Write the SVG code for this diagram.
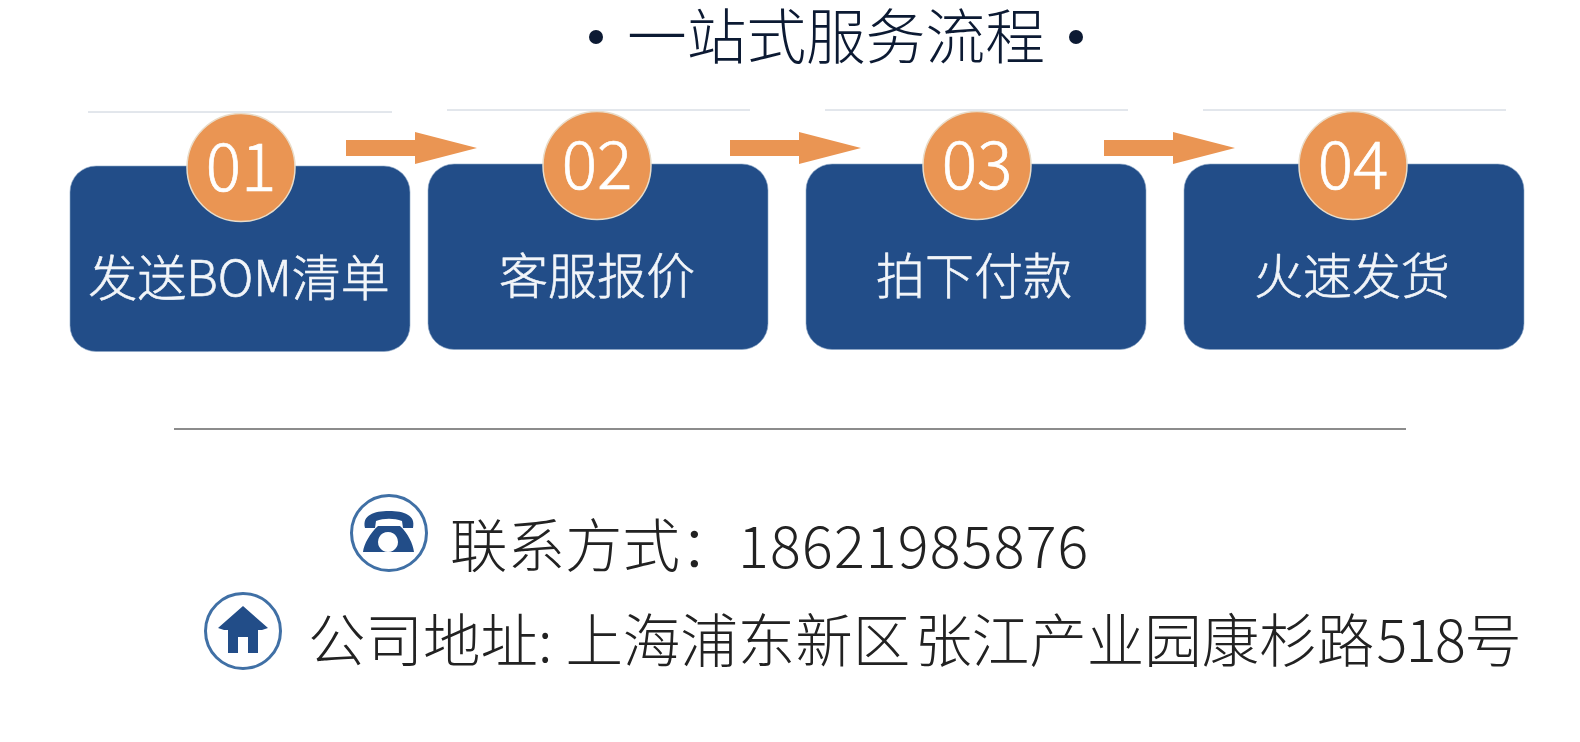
<svg xmlns="http://www.w3.org/2000/svg" width="1580" height="742" viewBox="0 0 1580 742">
<defs><filter id="soft" x="-5%" y="-5%" width="110%" height="110%"><feGaussianBlur stdDeviation="0.6"/></filter></defs>
<style>
.box{fill:#224e88;stroke:#8fa8c8;stroke-width:.6}
.num{fill:#ea9552;stroke:#e9dcc9;stroke-width:1.5}
.n{font-family:"Noto Sans CJK SC",sans-serif;font-weight:300;font-size:66px;fill:#fff;stroke:#fff;stroke-width:.7;text-anchor:middle}
.l{font-family:"Noto Sans CJK SC",sans-serif;font-weight:300;font-size:49px;fill:#f2f5f9;stroke:#f2f5f9;stroke-width:.6;text-anchor:middle}
.top{stroke:#c6ced9;stroke-width:1}
.arrow{fill:#ea9552}
.t{font-family:"Noto Sans CJK SC",sans-serif;font-weight:300;fill:#222;font-size:57.500px}
.ring{fill:#fff;stroke:#3f6fa5;stroke-width:3}
.ic{fill:#224e88}
.step{filter:url(#soft)}
</style>
<rect width="1580" height="742" fill="#fff"/>
<g id="title">
<circle cx="596" cy="37" r="7" fill="#0c1a33"/>
<text x="627" y="59" font-family="Noto Sans CJK SC,sans-serif" font-weight="300" font-size="59.700" fill="#0c1a33">一站式服务流程</text>
<circle cx="1076" cy="37" r="7" fill="#0c1a33"/>
</g>
<g id="connectors" class="step">
<path class="arrow" d="M346 140H415V132L477 148L415 164V156H346Z"/>
<path class="arrow" d="M730 140H799V132L861 148L799 164V156H730Z"/>
<path class="arrow" d="M1104 140H1173V132L1235 148L1173 164V156H1104Z"/>
</g>
<g id="step1" class="step">
<line class="top" x1="88" y1="112" x2="392" y2="112"/>
<rect class="box" x="70" y="166" width="340" height="185.500" rx="26"/>
<circle class="num" cx="241" cy="167.500" r="54"/>
<text class="n" x="241" y="191">01</text>
<text class="l" x="239" y="296">发送BOM清单</text>
</g>
<g id="step2" class="step">
<line class="top" x1="447" y1="110" x2="750" y2="110"/>
<rect class="box" x="428" y="164" width="340" height="185.500" rx="26"/>
<circle class="num" cx="597" cy="165.500" r="54"/>
<text class="n" x="597" y="189">02</text>
<text class="l" x="597" y="294">客服报价</text>
</g>
<g id="step3" class="step">
<line class="top" x1="825" y1="110" x2="1128" y2="110"/>
<rect class="box" x="806" y="164" width="340" height="185.500" rx="26"/>
<circle class="num" cx="977" cy="165.500" r="54"/>
<text class="n" x="977" y="189">03</text>
<text class="l" x="974" y="294">拍下付款</text>
</g>
<g id="step4" class="step">
<line class="top" x1="1203" y1="110" x2="1506" y2="110"/>
<rect class="box" x="1184" y="164" width="340" height="185.500" rx="26"/>
<circle class="num" cx="1353" cy="165.500" r="54"/>
<text class="n" x="1353" y="189">04</text>
<text class="l" x="1352" y="294">火速发货</text>
</g>
<line id="divider" x1="174" y1="429" x2="1406" y2="429" stroke="#666" stroke-width="1.500"/>
<g id="phone">
<g class="step">
<circle class="ring" cx="389" cy="533" r="37.500"/>
<path class="ic" d="M365 528C362 515 374 511 389 511C404 511 416 515 413 528L403 528L402 521C394 518 384 518 376 521L375 528Z"/>
<path class="ic" fill-rule="evenodd" d="M378 526H400C408 533 413 544 414 552H363C364 544 370 533 378 526ZM388 532a10 10 0 1 0 .01 0Z"/>
</g>
<text class="t" x="450" y="567">联系方式：</text>
<text class="t" x="738" y="568" letter-spacing="1.200">18621985876</text>
</g>
<g id="address">
<g class="step">
<circle class="ring" cx="243" cy="631" r="37.500"/>
<path class="ic" d="M243 606L268 628L262 630H258V653H248V637H238V653H228V630H224L218 628Z"/>
</g>
<text class="t" x="308" y="662">公司地址:<tspan dx="13">上海浦东新区</tspan><tspan dx="4">张江产业园康杉路</tspan><tspan dx="2" letter-spacing="-1.500">518号</tspan></text>
</g>
</svg>
